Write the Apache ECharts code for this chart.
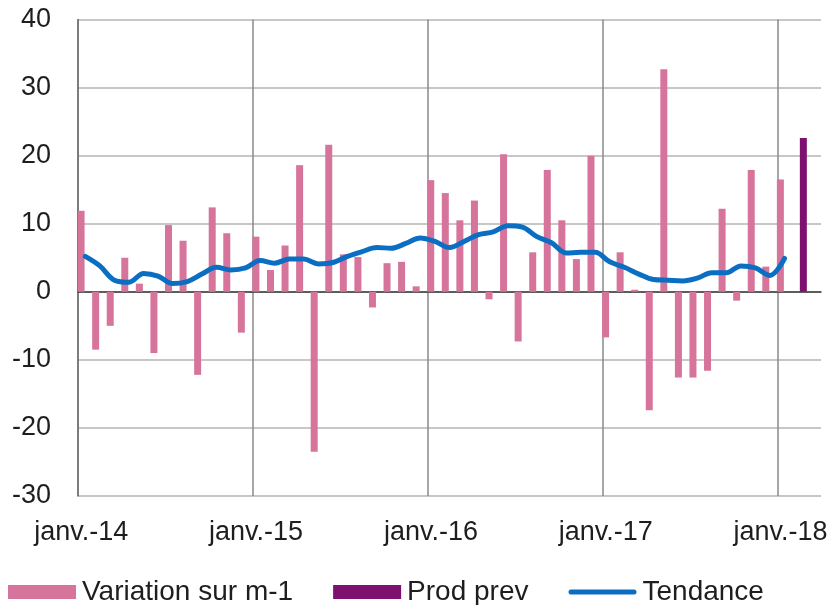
<!DOCTYPE html>
<html>
<head>
<meta charset="utf-8">
<script src="https://cdn.jsdelivr.net/npm/echarts@6/dist/echarts.min.js"></script>
<style>
html,body{margin:0;padding:0;background:#fff;}
#c{width:837px;height:605px;}
</style>
</head>
<body>
<div id="c"></div>
<script>
// Monthly categories janv.-14 .. mars-18
var monthNames = ['janv.','févr.','mars','avr.','mai','juin','juil.','août','sept.','oct.','nov.','déc.'];
var years = ['14','15','16','17','18'];
var categories = [];
years.forEach(function(y){ monthNames.forEach(function(m){ categories.push(m + '-' + y); }); });
categories = categories.slice(0, 51);

var yTicks = [-30, -20, -10, 0, 10, 20, 30, 40];

var variation = [
  11.9, -8.5, -5.0, 5.0, 1.2, -9.0, 9.8, 7.5, -12.2, 12.4, 8.6, -6.0,
  8.1, 3.2, 6.8, 18.6, -23.5, 21.6, 5.5, 5.1, -2.3, 4.2, 4.4, 0.8,
  16.4, 14.5, 10.5, 13.4, -1.1, 20.2, -7.3, 5.8, 17.9, 10.5, 4.8, 20.0,
  -6.7, 5.8, 0.3, -17.4, 32.7, -12.6, -12.6, -11.6, 12.2, -1.3, 17.9, 3.7,
  16.5, null, null
];

var prodPrev = [
  null, null, null, null, null, null, null, null, null, null, null, null,
  null, null, null, null, null, null, null, null, null, null, null, null,
  null, null, null, null, null, null, null, null, null, null, null, null,
  null, null, null, null, null, null, null, null, null, null, null, null,
  null, 22.6, null
];

var tendance = [
  5.2, 3.8, 1.7, 1.4, 2.7, 2.3, 1.2, 1.5, 2.6, 3.6, 3.2, 3.5,
  4.6, 4.2, 4.8, 4.8, 4.1, 4.3, 5.2, 5.9, 6.5, 6.4, 7.1, 7.9,
  7.4, 6.5, 7.4, 8.4, 8.8, 9.7, 9.5, 8.1, 7.2, 5.7, 5.8, 5.8,
  4.4, 3.6, 2.6, 1.8, 1.7, 1.6, 2.0, 2.8, 2.8, 3.8, 3.5, 2.4,
  4.9, null, null
];

var FONT = "'Liberation Sans', Arial, sans-serif";
var TXT = '#1e1e1e';
var BLUE = '#0a6fc2';
// thick rounded line legend glyph inside a 68x14 box
var lineIcon = 'path://M0,0M68,14M2.5,4.5L65.5,4.5A2.5,2.5,0,0,1,65.5,9.5L2.5,9.5A2.5,2.5,0,0,1,2.5,4.5Z';

var chart = echarts.init(document.getElementById('c'), null, {renderer: 'canvas'});
chart.setOption({
  animation: false,
  textStyle: {fontFamily: FONT},
  grid: {left: 78, right: 16, top: 19.5, bottom: 109, containLabel: false},
  legend: {
    left: 8, top: 578, padding: 0,
    itemWidth: 68, itemHeight: 14, itemGap: 40,
    textStyle: {fontSize: 28, color: TXT, fontFamily: FONT, padding: [0, 0, 0, 1]},
    data: [
      {name: 'Variation sur m-1', icon: 'rect'},
      {name: 'Prod prev', icon: 'rect'},
      {name: 'Tendance', icon: lineIcon, itemStyle: {color: BLUE, borderWidth: 0}}
    ]
  },
  xAxis: {
    type: 'category',
    data: categories,
    boundaryGap: true,
    axisLine: {onZero: true, lineStyle: {color: '#3a3a3a', width: 1.5}},
    axisTick: {show: false},
    axisLabel: {
      interval: function(i){ return i % 12 === 0; },
      fontSize: 27, color: TXT, fontFamily: FONT,
      margin: 23, padding: [0, 8, 0, 0]
    },
    splitLine: {
      show: true,
      showMaxLine: false,
      interval: function(i){ return i % 12 === 0; },
      lineStyle: {color: '#8a8a8a', width: 1.5}
    }
  },
  yAxis: {
    type: 'value',
    min: yTicks[0], max: yTicks[yTicks.length - 1], interval: 10,
    axisLine: {show: true, lineStyle: {color: '#6e6e6e', width: 1.5}},
    axisTick: {show: false},
    axisLabel: {fontSize: 27, color: TXT, margin: 27, fontFamily: FONT},
    splitLine: {lineStyle: {color: '#b5b5b5', width: 1.5}}
  },
  series: [
    {
      name: 'Variation sur m-1', type: 'bar', data: variation,
      barWidth: 7, barGap: '20%',
      itemStyle: {color: '#d6749b'}
    },
    {
      name: 'Prod prev', type: 'bar', data: prodPrev,
      barWidth: 7, barGap: '20%',
      itemStyle: {color: '#7e1070'}
    },
    {
      name: 'Tendance', type: 'line', data: tendance,
      symbol: 'none', smooth: 0.35,
      lineStyle: {color: BLUE, width: 5, cap: 'round', join: 'round'},
      itemStyle: {color: BLUE},
      z: 5
    }
  ]
});
</script>
</body>
</html>
